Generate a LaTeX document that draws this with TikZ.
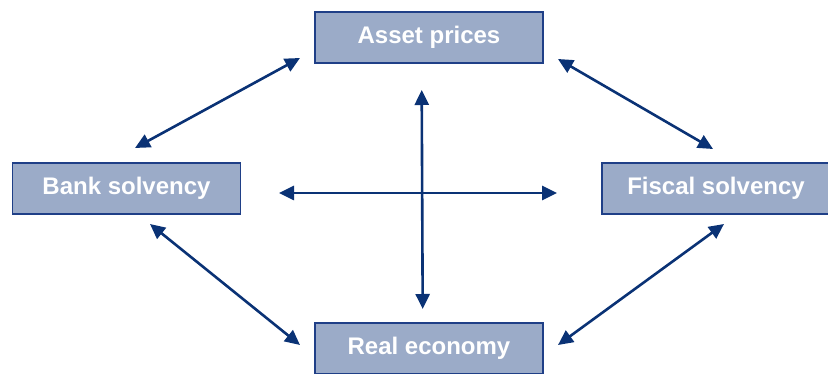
\documentclass[tikz,border=0pt]{standalone}
\usepackage{fontspec}
\setmainfont{Liberation Sans}
\usepackage{xcolor}
\usetikzlibrary{positioning,arrows.meta}
\definecolor{boxfill}{HTML}{9BABC8}
\definecolor{boxline}{HTML}{1F3F87}
\definecolor{linkblue}{HTML}{0A3275}
\begin{document}
\begin{tikzpicture}[
    x=1pt, y=-1pt,
    box/.style={draw=boxline, fill=boxfill, line width=1.4pt, rectangle, minimum width=228pt, minimum height=51pt, text=white, font=\fontsize{24}{28}\selectfont\bfseries},
    link/.style={{Triangle[length=15pt,width=14pt]}-{Triangle[length=15pt,width=14pt]}, line width=2.6pt, draw=linkblue}
]
    \useasboundingbox (0,0) rectangle (828,374);
    % Nodes
    \node[box] (asset) at (429,37.5) {Asset prices};
    \node[box] (bank) at (126.5,188.5) {Bank solvency};
    \node[box] (fiscal) at (716,188.5) {Fiscal solvency};
    \node[box] (real) at (429,348.5) {Real economy};

    % Arrow ends
    \coordinate (ba1) at (135,148);  \coordinate (ba2) at (300,58);
    \coordinate (af1) at (558,59);   \coordinate (af2) at (713,149);
    \coordinate (br1) at (150,224);  \coordinate (br2) at (300,345);
    \coordinate (fr1) at (724,224);  \coordinate (fr2) at (558,345);
    \coordinate (vt) at (421.7,90);  \coordinate (vb) at (422.7,309);
    \coordinate (hl) at (279,193);   \coordinate (hr) at (557,193);

    % Arrows
    \draw[link] (ba1) -- (ba2);
    \draw[link] (af1) -- (af2);
    \draw[link] (br1) -- (br2);
    \draw[link] (fr1) -- (fr2);
    \draw[link] (vt) -- (vb);
    \draw[link] (hl) -- (hr);
\end{tikzpicture}
\end{document}
